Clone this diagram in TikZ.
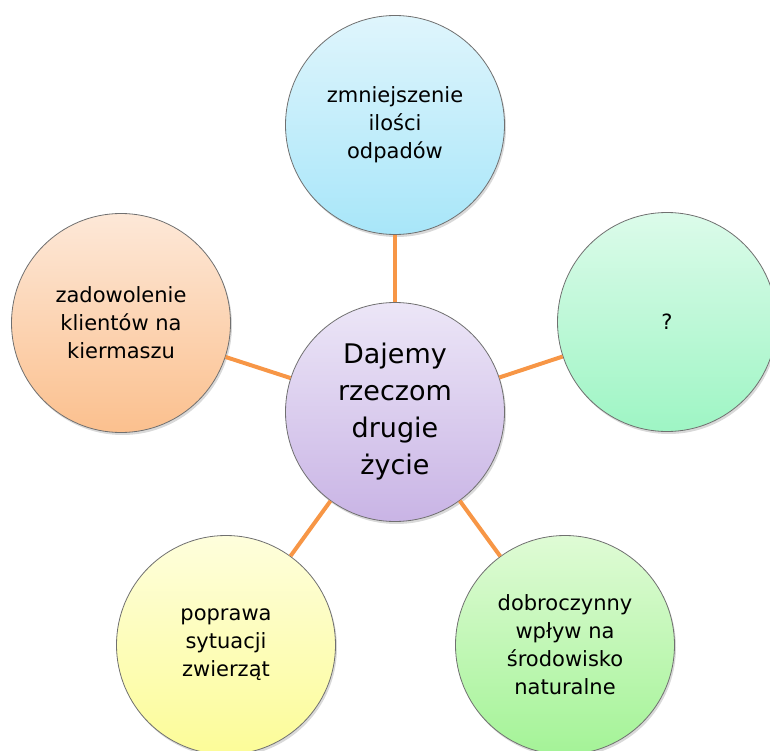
\documentclass[tikz,border=0pt]{standalone}
\usepackage{fontspec}
\setmainfont{DejaVu Sans}
\usetikzlibrary{shadows}
\definecolor{linkorange}{HTML}{F79646}
\definecolor{rimgray}{HTML}{707070}
\definecolor{blueTop}{HTML}{DFF5FC}
\definecolor{blueBot}{HTML}{A8E6F9}
\definecolor{mintTop}{HTML}{DCFBEA}
\definecolor{mintBot}{HTML}{9EF5C4}
\definecolor{peachTop}{HTML}{FDE8D8}
\definecolor{peachBot}{HTML}{FBC08E}
\definecolor{lilacTop}{HTML}{ECE6F7}
\definecolor{lilacBot}{HTML}{C9B4E5}
\definecolor{lemonTop}{HTML}{FEFEDC}
\definecolor{lemonBot}{HTML}{FCFC98}
\definecolor{leafTop}{HTML}{DFFBD5}
\definecolor{leafBot}{HTML}{A4F397}
\begin{document}
\begin{tikzpicture}[x=1pt,y=-1pt,
    bubble/.style={circle,draw=rimgray,line width=0.8pt,minimum size=219pt,inner sep=0pt,
      align=center,font=\fontsize{21}{28}\selectfont,
      drop shadow={opacity=0.3,shadow xshift=1.5pt,shadow yshift=-2.5pt}},
    link/.style={draw=linkorange,line width=4pt}]
  \clip (0,0) rectangle (770,751);
  \node[bubble,top color=lilacTop,bottom color=lilacBot,font=\fontsize{27}{37}\selectfont](Z) at (395,412){Dajemy\\rzeczom\\drugie\\życie};
  \foreach \n/\x/\y/\a/\b/\t in {T/395/125/blueTop/blueBot/{zmniejszenie\\ilości\\odpadów},
      R/667/322/mintTop/mintBot/{?},
      L/121/323/peachTop/peachBot/{zadowolenie\\klientów na\\kiermaszu},
      BL/226/645/lemonTop/lemonBot/{poprawa\\sytuacji\\zwierząt},
      BR/565/645/leafTop/leafBot/{dobroczynny\\wpływ na\\środowisko\\naturalne}}{
    \node[bubble,top color=\a,bottom color=\b](\n) at (\x,\y){\t};
  }
  \foreach \n in {T,R,L,BL,BR}
    \draw[link] (Z) -- (\n);
\end{tikzpicture}
\end{document}
